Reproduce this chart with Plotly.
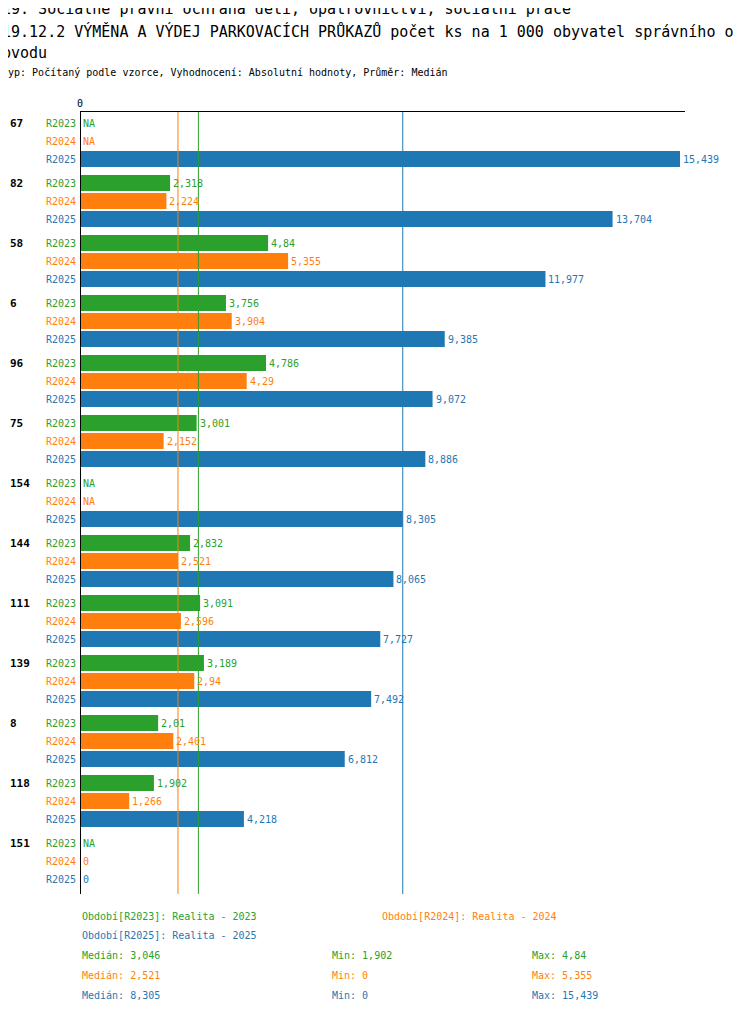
import plotly.graph_objects as go

groups = ["67", "82", "58", "6", "96", "75", "154", "144", "111", "139", "8", "118", "151"]
periods = ["R2023", "R2024", "R2025"]
colors = ["#2ca02c", "#ff7f0e", "#1f77b4"]
r2023 = [None, 2.318, 4.84, 3.756, 4.786, 3.001, None, 2.832, 3.091, 3.189, 2.01, 1.902, None]
r2024 = [None, 2.224, 5.355, 3.904, 4.29, 2.152, None, 2.521, 2.596, 2.94, 2.401, 1.266, 0]
r2025 = [15.439, 13.704, 11.977, 9.385, 9.072, 8.886, 8.305, 8.065, 7.727, 7.492, 6.812, 4.218, 0]
medians = [3.046, 2.521, 8.305]
mins = ["1,902", "0", "0"]
maxs = ["4,84", "5,355", "15,439"]
med_txt = ["3,046", "2,521", "8,305"]

FONT = "DejaVu Sans Mono"
series = [r2023, r2024, r2025]

# page is drawn with an 8px body offset, so shift everything back
OFF = 8
W, H = 750, 1014
L, R, T, B = 80 - OFF, 65 + OFF, 112 - OFF, 120 + OFF


def fmt(v):
    if v is None:
        return "NA"
    s = ("%.3f" % v).rstrip("0").rstrip(".")
    return s.replace(".", ",")


def ypos(g, j):
    return 123 - OFF + g * 60 + j * 18


def px(x):
    return (x - OFF - L) / (W - L - R)


def py(y):
    return 1 - (y - OFF - T) / (H - T - B)


fig = go.Figure()
ann = []
for j, vals in enumerate(series):
    ys = [ypos(g, j) for g in range(len(groups))]
    fig.add_trace(go.Bar(
        x=[v if v is not None else 0 for v in vals], y=ys, orientation="h",
        width=16, marker_color=colors[j], marker_line_width=0, showlegend=False
    ))
    for g, v in enumerate(vals):
        ann.append(dict(x=v or 0, y=ys[g], text=fmt(v), xanchor="left", xshift=1,
                        showarrow=False, font=dict(family=FONT, size=10, color=colors[j])))
        ann.append(dict(x=0, y=ys[g], text=periods[j], xanchor="right", xshift=-2,
                        showarrow=False, font=dict(family=FONT, size=10, color=colors[j])))

for g, name in enumerate(groups):
    ann.append(dict(x=px(8), xref="paper", y=ypos(g, 0), text="<b>%s</b>" % name, xanchor="left",
                    showarrow=False, font=dict(family=FONT, size=11, color="black")))

shapes = []
for j, m in enumerate(medians):
    shapes.append(dict(type="line", x0=m, x1=m, yref="paper", y0=0, y1=1,
                       line=dict(color=colors[j], width=1)))
shapes.append(dict(type="line", x0=0, x1=0, yref="paper", y0=0, y1=1,
                   line=dict(color="black", width=2)))

for txt, y, size in [
    ("19. Sociálně právní ochrana dětí, opatrovnictví, sociální práce", 9, 15),
    ("19.12.2 VÝMĚNA A VÝDEJ PARKOVACÍCH PRŮKAZŮ počet ks na 1 000 obyvatel správního o", 31, 15),
    ("bvodu", 53, 15),
    ("Typ: Počítaný podle vzorce, Vyhodnocení: Absolutní hodnoty, Průměr: Medián", 73, 10),
]:
    ann.append(dict(x=px(0), y=py(y), xref="paper", yref="paper", text=txt, xanchor="left",
                    yanchor="middle", showarrow=False, font=dict(family=FONT, size=size, color="black")))

legend_rows = [
    (80, 916, "Období[R2023]: Realita - 2023", 0),
    (380, 916, "Období[R2024]: Realita - 2024", 1),
    (80, 936, "Období[R2025]: Realita - 2025", 2),
]
for x, y, t, j in legend_rows:
    ann.append(dict(x=px(x), y=py(y), xref="paper", yref="paper", text=t, xanchor="left",
                    yanchor="middle", showarrow=False, font=dict(family=FONT, size=10, color=colors[j])))
for j in range(3):
    y = 956 + 20 * j
    for x, t in [(80, "Medián: " + med_txt[j]), (330, "Min: " + mins[j]), (530, "Max: " + maxs[j])]:
        ann.append(dict(x=px(x), y=py(y), xref="paper", yref="paper", text=t, xanchor="left",
                        yanchor="middle", showarrow=False, font=dict(family=FONT, size=10, color=colors[j])))

fig.update_layout(
    width=W, height=H, margin=dict(l=L, r=R, t=T, b=B),
    plot_bgcolor="white", paper_bgcolor="white",
    barmode="overlay", annotations=ann, shapes=shapes,
    xaxis=dict(range=[0, 15.439 * 605 / 600], side="top", showgrid=False, zeroline=False,
               tickvals=[0], ticktext=["0"], ticks="", showline=True, linecolor="black",
               linewidth=1, tickfont=dict(family=FONT, size=10, color="black")),
    yaxis=dict(range=[ypos(0, 0) - 11 + (H - T - B), ypos(0, 0) - 11], showgrid=False,
               zeroline=False, showticklabels=False, showline=False),
)

fig.write_html("out.html")
